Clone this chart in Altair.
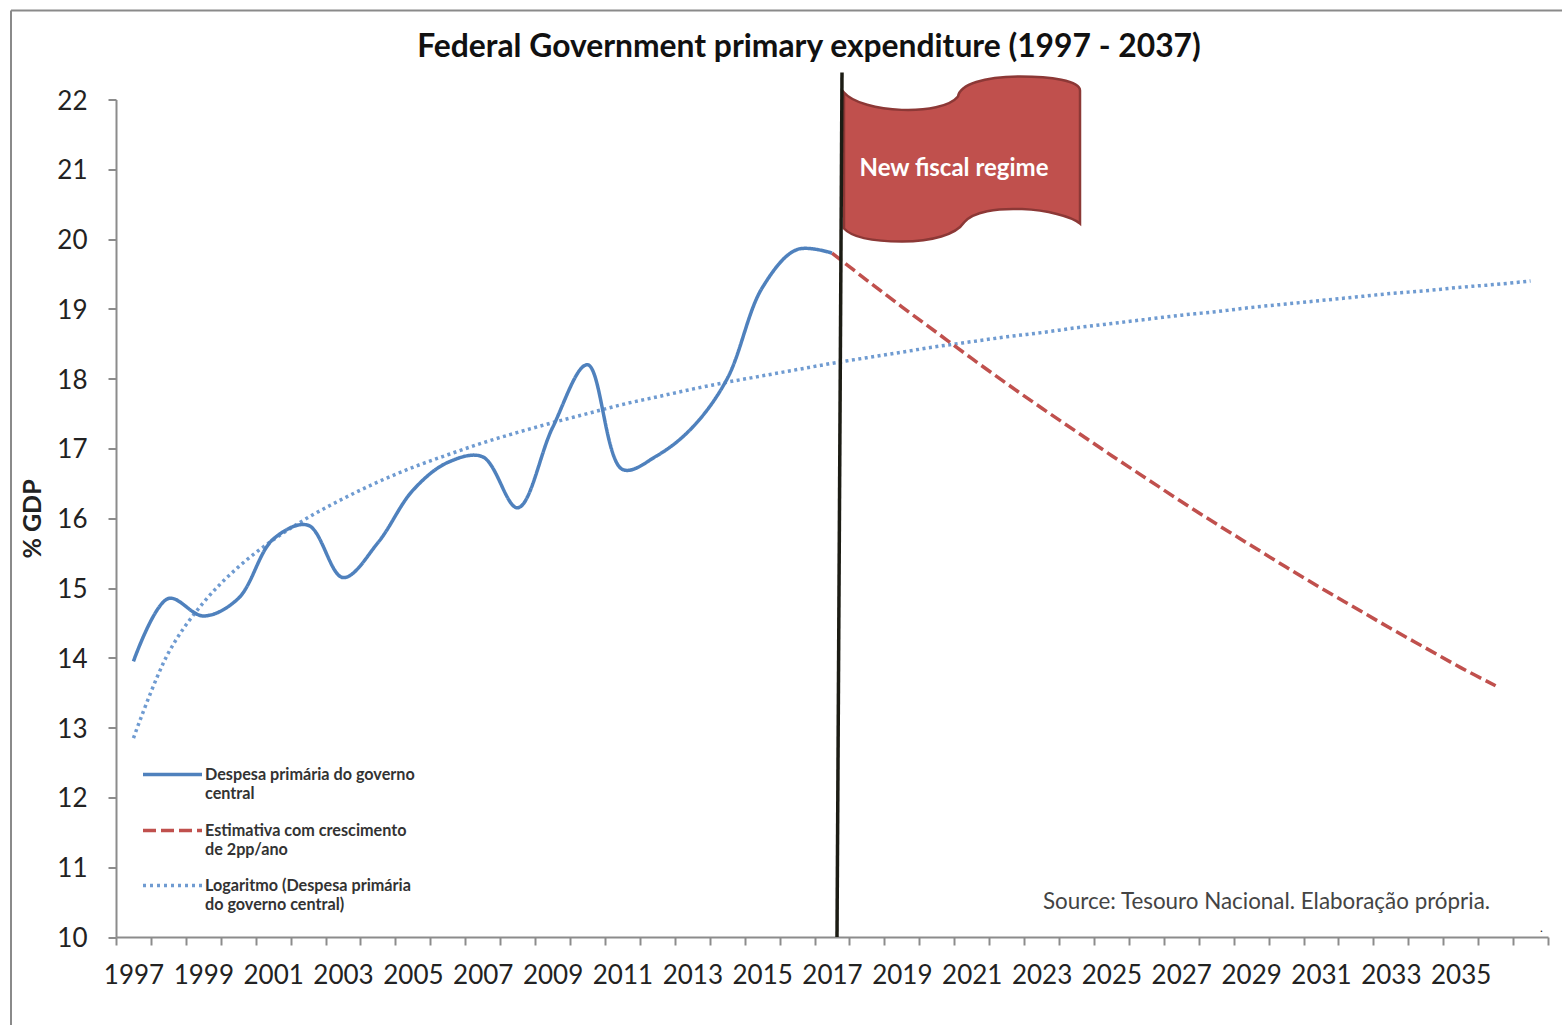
import altair as alt
import pandas as pd

TITLE = "Federal Government primary expenditure (1997 - 2037)"
Y_TITLE = "% GDP"
FLAG_TEXT = "New fiscal regime"
SOURCE = "Source: Tesouro Nacional. Elaboração própria."
FONT = "Lato"

years = list(range(1997, 2038))
y_ticks = list(range(10, 23))

# Primary expenditure of the central government, 1997-2017
spending_years = list(range(1997, 2018))
spending = [13.95, 14.85, 14.6, 14.85, 15.7, 15.9, 15.15, 15.65, 16.4, 16.8, 16.88,
            16.15, 17.3, 18.2, 16.7, 16.9, 17.3, 18.0, 19.3, 19.85, 19.8]

# Projection under the new fiscal regime, 2017-2036
projection_years = list(range(2017, 2037))
projection = [19.8, 19.41, 19.03, 18.66, 18.29, 17.93, 17.58, 17.24, 16.9, 16.57,
              16.24, 15.92, 15.61, 15.3, 15.0, 14.71, 14.42, 14.14, 13.86, 13.6]

# Logarithmic trend of the spending series, 1997-2037
trend = [12.85, 14.07, 14.79, 15.3, 15.69, 16.01, 16.28, 16.52, 16.73, 16.91, 17.08,
         17.23, 17.37, 17.5, 17.63, 17.74, 17.85, 17.95, 18.04, 18.13, 18.22, 18.3,
         18.38, 18.46, 18.53, 18.6, 18.66, 18.73, 18.79, 18.85, 18.91, 18.96, 19.02,
         19.07, 19.12, 19.17, 19.22, 19.26, 19.31, 19.35, 19.4]

legend_rows = [
    {"lines": ["Despesa  primária do governo", "central"], "color": "#4f81bd", "dash": [1, 0], "y": 675},
    {"lines": ["Estimativa com  crescimento", "de 2pp/ano"], "color": "#c0504d", "dash": [13, 5], "y": 731},
    {"lines": ["Logaritmo  (Despesa primária", "do governo  central)"], "color": "#6f9bd1", "dash": [3, 4], "y": 786},
]

x = alt.X(
    "year:O",
    title=None,
    scale=alt.Scale(type="band", domain=years, paddingInner=0, paddingOuter=0),
    axis=alt.Axis(
        tickBand="extent", tickExtra=True, labelAngle=0, labelOverlap=False,
        labelExpr="+datum.label % 2 == 1 && +datum.label < 2037 ? datum.label : ''",
        labelFontSize=26, labelFont=FONT, labelColor="#222222", labelPadding=17,
        tickSize=8, tickColor="#8c8c8c", tickWidth=2,
        domainColor="#8c8c8c", domainWidth=2, grid=False,
    ),
)
y = alt.Y(
    "value:Q",
    scale=alt.Scale(domain=[10, 22], nice=False, zero=False),
    axis=alt.Axis(
        values=y_ticks, title=Y_TITLE, titleFontSize=25, titleFont=FONT, titleFontWeight="bold",
        titleColor="#222222", titleX=-71, titleY=419,
        labelFontSize=26, labelFont=FONT, labelColor="#222222", labelPadding=21, labelOffset=1.5,
        tickSize=8, tickColor="#8c8c8c", tickWidth=2,
        domainColor="#8c8c8c", domainWidth=2, grid=False,
    ),
)


def series_line(xs, ys, color, dash, width):
    frame = pd.DataFrame({"year": xs, "value": ys})
    return alt.Chart(frame).mark_line(
        color=color, strokeWidth=width, strokeDash=dash, interpolate="catmull-rom"
    ).encode(x=x, y=y)


def label(text, px, py, size, color="#333333", weight="normal", align="left", line_height=None):
    opts = dict(font=FONT, fontSize=size, color=color, fontWeight=weight, align=align, baseline="middle")
    if line_height:
        opts["lineHeight"] = line_height
    return alt.Chart(pd.DataFrame({"t": [text]})).mark_text(**opts).encode(
        text="t:N", x=alt.value(px), y=alt.value(py)
    )


def rule(x1, x2, y1, y2, color, width, dash=None):
    opts = dict(color=color, strokeWidth=width)
    if dash:
        opts["strokeDash"] = dash
    return alt.Chart(pd.DataFrame({"a": [0]})).mark_rule(**opts).encode(
        x=alt.value(x1), x2=alt.value(x2), y=alt.value(y1), y2=alt.value(y2)
    )


# Flag outline, centred on its own origin and scaled by the symbol size
FLAG_WIDTH = 236
flag_cmds = [
    ("M", [-118, -66]), ("C", [-100, -45, -20, -42, -4, -62]),
    ("C", [-2, -74, 22, -82, 58, -82]), ("C", [88, -82, 118, -78, 118, -68]),
    ("L", [118, 65]), ("C", [100, 50, 20, 42, 2, 64]),
    ("C", [-6, 76, -30, 83, -60, 83]), ("C", [-90, 83, -110, 79, -118, 70]),
]
flag_path = " ".join(
    c + " " + " ".join(f"{v / (FLAG_WIDTH / 2):.4f}" for v in vals) for c, vals in flag_cmds
) + " Z"
flag = alt.Chart(pd.DataFrame({"a": [0]})).mark_point(
    shape=flag_path, size=FLAG_WIDTH ** 2, filled=True, fill="#c0504d", fillOpacity=1,
    stroke="#8c3836", strokeWidth=2.5, opacity=1,
).encode(x=alt.value(846), y=alt.value(59))

layers = [
    series_line(years, trend, "#6f9bd1", [3, 3.5], 3.5),
    series_line(projection_years, projection, "#c0504d", [12, 5], 3.5),
    series_line(spending_years, spending, "#4f81bd", [1, 0], 3.5),
    flag,
    rule(726, 721, -27, 837.5, "#1c1c14", 3.5),
    label(FLAG_TEXT, 838, 69, 24, color="#ffffff", weight="bold", align="center"),
    label(SOURCE, 927, 802, 22.4, color="#444444"),
    label(".", 1424, 828, 12, color="#222222"),
]
for row in legend_rows:
    layers.append(rule(27, 86, row["y"], row["y"], row["color"], 3.5, row["dash"]))
    layers.append(label(row["lines"], 89, row["y"], 16.2, weight="bold", line_height=19.5))

# Frame along the top and left edges of the figure
layers.append(rule(-105, 1446, -89, -89, "#8a8a8a", 2))
layers.append(rule(-105, -105, -89, 926, "#8a8a8a", 2))

chart = alt.layer(*layers).properties(
    width=1432, height=837.5,
    padding={"left": 116, "top": 99.5, "right": 14, "bottom": 88},
    autosize=alt.AutoSizeParams(type="none"),
    background="#ffffff",
    title=alt.TitleParams(
        TITLE, font=FONT, fontSize=31.8, fontWeight="bold", color="#111111",
        anchor="middle", dx=-23, offset=-54,
    ),
).configure_view(stroke=None)

chart.save("out.html", embed_options={"renderer": "svg", "actions": False})
